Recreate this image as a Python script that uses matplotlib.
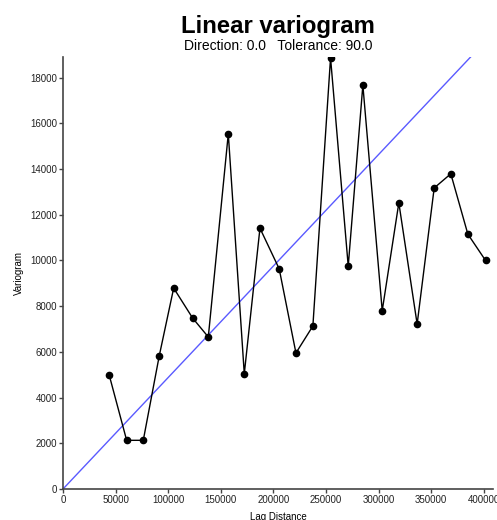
import matplotlib.pyplot as plt

# experimental variogram: lag centres and semivariance
lag = [44000, 60500, 76300, 91500, 105200, 123200, 138100, 157100, 172300,
       187200, 205500, 221400, 237500, 254300, 271100, 285000, 303400,
       319200, 336600, 352800, 368600, 384800, 401600]
gamma = [4970, 2130, 2130, 5830, 8790, 7480, 6650, 15540, 5040,
         11410, 9630, 5950, 7130, 18860, 9750, 17670, 7800,
         12520, 7215, 13170, 13790, 11150, 10000]

# fitted linear model, drawn from the origin to the top of the plot
model_x = [0, 387400]
model_y = [0, 18900]

plt.rcParams['font.family'] = ['Liberation Sans', 'DejaVu Sans']

fig = plt.figure(figsize=(4.97, 5.2), dpi=100)
ax = fig.add_axes([63 / 497, 31 / 520, 430 / 497, 432 / 520])

ax.plot(model_x, model_y, color='#5a5aff', lw=1.0)
ax.plot(lag, gamma, color='black', lw=1.0, marker='o', markersize=4.5)

ax.set_xlim(0, 408700)
ax.set_ylim(0, 18900)
ax.set_xticks(range(0, 400001, 50000))
ax.set_yticks(range(0, 18001, 2000))
ax.tick_params(labelsize=7, length=3, width=1, color='#444444',
               labelcolor='#222222', pad=1)
for side in ['top', 'right']:
    ax.spines[side].set_visible(False)
for side in ['left', 'bottom']:
    ax.spines[side].set_color('#444444')
    ax.spines[side].set_linewidth(1.2)

ax.set_xlabel('Lag Distance', fontsize=7, labelpad=5)
ax.set_ylabel('Variogram', fontsize=7, labelpad=5)

fig.text(278 / 497, 1 - 26 / 520, 'Linear variogram', ha='center', va='center',
         fontsize=17.2, fontweight='bold')
fig.text(278 / 497, 1 - 46 / 520, 'Direction: 0.0   Tolerance: 90.0',
         ha='center', va='center', fontsize=10)

fig.savefig('out.png', dpi=100)
